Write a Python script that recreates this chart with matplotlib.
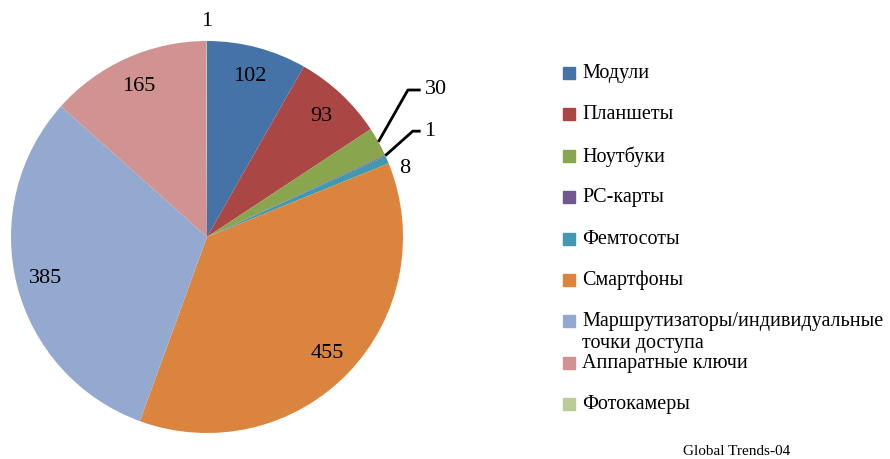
import matplotlib.pyplot as plt
from matplotlib.patches import Rectangle
import numpy as np

plt.rcParams['font.family'] = ['Liberation Serif', 'DejaVu Serif']

categories = ['Модули', 'Планшеты', 'Ноутбуки', 'PC-карты', 'Фемтосоты',
              'Смартфоны', 'Маршрутизаторы/индивидуальные\nточки доступа',
              'Аппаратные ключи', 'Фотокамеры']
values = [102, 93, 30, 1, 8, 455, 385, 165, 1]
colors = ['#4572A7', '#AA4643', '#89A54E', '#71588F', '#4198AF',
          '#DB843D', '#93A9CF', '#D19392', '#B9CD96']

W, H = 890, 459
fig = plt.figure(figsize=(W / 100, H / 100), dpi=100)
cx, cy, r = 207, 237, 196
ax = fig.add_axes([(cx - r) / W, (H - cy - r) / H, 2 * r / W, 2 * r / H])
ax.axis('off')

wedges, _ = ax.pie(values, colors=colors, startangle=90, counterclock=False,
                   radius=1, wedgeprops=dict(linewidth=0))
ax.set_xlim(-1, 1)
ax.set_ylim(-1, 1)
ax.set_aspect('equal')

# small slices get labels outside: (text x, text y, elbow x, elbow y)
outside = {2: (1.11, 0.75, 1.025, 0.75), 3: (1.11, 0.54, 1.05, 0.54),
           4: (0.98, 0.35, None, None), 8: (0.0, 1.1, None, None)}

for i, w in enumerate(wedges):
    ang = np.deg2rad((w.theta1 + w.theta2) / 2)
    if i in outside:
        tx, ty, ex, ey = outside[i]
        if ex is not None:
            px, py = np.cos(ang), np.sin(ang)
            ax.plot([px, ex, tx - 0.02], [py, ey, ey], color='black', lw=2,
                    clip_on=False, solid_capstyle='butt')
            ax.text(tx, ty, str(values[i]), ha='left', va='center', fontsize=16)
        else:
            ha = 'center' if i == 8 else 'left'
            ax.text(tx, ty, str(values[i]), ha=ha, va='center', fontsize=16)
    else:
        ax.text(0.85 * np.cos(ang), 0.85 * np.sin(ang) - 0.005, str(values[i]),
                ha='center', va='center', fontsize=16)

# legend
for i, (name, c) in enumerate(zip(categories, colors)):
    yc = 73 + 41.4 * i
    fig.patches.append(Rectangle((563 / W, 1 - (yc + 6) / H), 12 / W, 12 / H,
                                 transform=fig.transFigure, color=c))
    fig.text(582 / W, 1 - (yc - 9) / H, name, ha='left', va='top',
             fontsize=14.5, linespacing=1.2)

fig.text(737 / W, 1 - 445 / H, 'Global Trends-04', ha='center', va='top',
         fontsize=11)

fig.savefig('out.png', dpi=100)
